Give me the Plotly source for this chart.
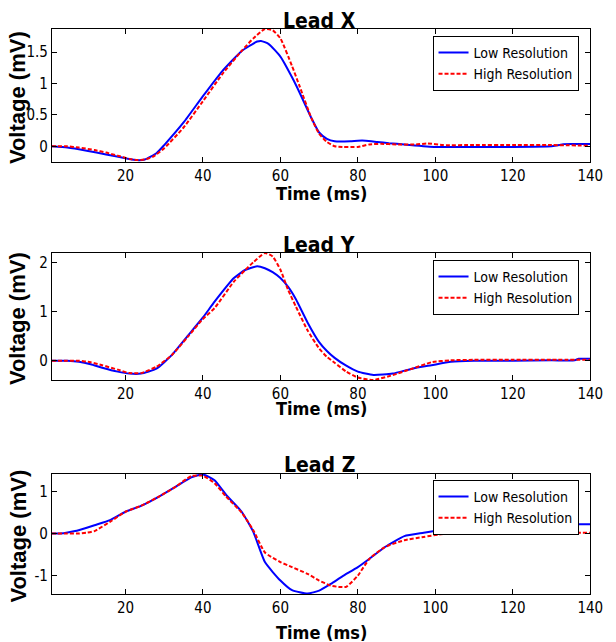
import plotly.graph_objects as go

# Lead X
t_x_low = [1, 5, 10, 15, 20, 23, 25, 28, 30, 35, 40, 45, 50, 52, 54, 55, 57, 60, 63, 65, 68, 70, 72, 74, 78, 80, 82, 85, 88, 92, 100, 110, 120, 130, 132, 133, 140]
x_low = [0, -0.02, -0.07, -0.13, -0.19, -0.22, -0.21, -0.11, 0.02, 0.38, 0.8, 1.2, 1.52, 1.6, 1.67, 1.68, 1.63, 1.43, 1.1, 0.85, 0.45, 0.22, 0.12, 0.08, 0.08, 0.09, 0.09, 0.07, 0.05, 0.03, -0.01, -0.01, -0.01, 0.0, 0.02, 0.035, 0.035]
t_x_high = [1, 5, 8, 12, 15, 18, 21, 23, 25, 27, 30, 35, 40, 45, 50, 53, 56, 58, 60, 63, 65, 68, 70, 72, 74, 76, 80, 83, 86, 90, 95, 98, 102, 110, 120, 130, 140]
x_high = [0, 0, -0.02, -0.06, -0.1, -0.15, -0.2, -0.22, -0.21, -0.17, -0.03, 0.3, 0.72, 1.15, 1.52, 1.72, 1.87, 1.85, 1.72, 1.28, 0.95, 0.45, 0.2, 0.07, 0.0, -0.01, -0.01, 0.03, 0.04, 0.03, 0.03, 0.045, 0.02, 0.02, 0.02, 0.02, 0.01]

# Lead Y
t_y_low = [1, 5, 8, 11, 14, 18, 21, 24, 28, 32, 36, 40, 43, 48, 51, 54, 56, 58, 60, 62, 64, 67, 70, 72, 74, 77, 80, 84, 89, 94, 99, 104, 110, 120, 130, 136, 137, 140]
y_low = [0, 0, -0.02, -0.07, -0.14, -0.22, -0.26, -0.26, -0.16, 0.12, 0.5, 0.88, 1.2, 1.68, 1.85, 1.92, 1.88, 1.8, 1.68, 1.5, 1.25, 0.78, 0.38, 0.2, 0.06, -0.1, -0.22, -0.29, -0.26, -0.16, -0.09, -0.02, 0.0, 0.0, 0.01, 0.01, 0.04, 0.04]
t_y_high = [1, 5, 8, 11, 14, 18, 21, 24, 28, 32, 36, 40, 43, 48, 51, 53, 56, 58, 60, 62, 64, 67, 70, 72, 74, 77, 80, 84, 89, 94, 99, 104, 110, 120, 130, 140]
y_high = [0, 0, 0, -0.03, -0.09, -0.18, -0.25, -0.25, -0.12, 0.12, 0.48, 0.85, 1.07, 1.61, 1.85, 2.0, 2.19, 2.12, 1.85, 1.44, 1.1, 0.62, 0.25, 0.08, -0.04, -0.22, -0.34, -0.39, -0.29, -0.16, -0.03, 0.01, 0.02, 0.02, 0.02, 0.02]

# Lead Z
t_z_low = [1, 4, 7, 10, 12, 16, 20, 24, 29, 33, 37, 40, 43, 46, 50, 53, 56, 60, 63, 67, 70, 73, 76, 80, 83, 87, 92, 97, 101, 104, 110, 120, 130, 135, 140]
z_low = [0, 0.01, 0.06, 0.14, 0.2, 0.32, 0.52, 0.66, 0.9, 1.12, 1.34, 1.41, 1.27, 0.92, 0.52, 0.04, -0.68, -1.12, -1.35, -1.43, -1.36, -1.2, -1.02, -0.8, -0.6, -0.32, -0.06, 0.02, 0.08, 0.12, 0.14, 0.18, 0.2, 0.22, 0.22]
t_z_high = [1, 5, 8, 10, 12, 16, 20, 24, 29, 33, 37, 40, 43, 46, 50, 53, 56, 60, 63, 67, 70, 73, 75, 77, 80, 83, 87, 92, 97, 101, 104, 110, 120, 129, 131, 140]
z_high = [0, 0, 0, 0.02, 0.06, 0.28, 0.52, 0.66, 0.9, 1.12, 1.37, 1.38, 1.2, 0.88, 0.5, 0.08, -0.45, -0.68, -0.8, -0.96, -1.12, -1.24, -1.27, -1.27, -1.0, -0.6, -0.32, -0.16, -0.08, -0.02, 0.0, 0.0, 0.0, 0.0, 0.02, 0.02]

leads = [
    ('Lead X', t_x_low, x_low, t_x_high, x_high, [-0.25, 1.87], [0, 0.5, 1, 1.5], ['0', '0.5', '1', '1.5']),
    ('Lead Y', t_y_low, y_low, t_y_high, y_high, [-0.39, 2.19], [0, 1, 2], ['0', '1', '2']),
    ('Lead Z', t_z_low, z_low, t_z_high, z_high, [-1.44, 1.42], [-1, 0, 1], ['-1', '0', '1']),
]

W, H = 616, 642


def px(x):
    return x / W


def py(y):
    return 1 - y / H


# plot boxes in page pixels (top, bottom)
boxes = [(29, 162), (253, 380), (474, 594)]
x_left, x_right = 53, 603
title_y = [21, 245, 465]
xtitle_y = [193, 408, 632]
legend_top = [36, 260, 480]

NARROW = 'Liberation Sans Narrow, Arial Narrow, DejaVu Sans Condensed, Roboto Condensed, Liberation Sans, sans-serif'
WIDE = 'Liberation Sans, Arial, sans-serif'

fig = go.Figure()
annotations = []

for i, (name, tl, vl, th, vh, yr, yt, ytl) in enumerate(leads):
    n = '' if i == 0 else str(i + 1)
    leg = 'legend' + n
    fig.add_trace(go.Scatter(x=tl, y=vl, mode='lines', name='Low Resolution',
                             line=dict(color='#0000FF', width=2, shape='spline', smoothing=0.5),
                             xaxis='x' + n, yaxis='y' + n, legend=leg))
    fig.add_trace(go.Scatter(x=th, y=vh, mode='lines', name='High Resolution',
                             line=dict(color='#FF0000', width=2, dash='4px,2px', shape='spline', smoothing=0.5),
                             xaxis='x' + n, yaxis='y' + n, legend=leg))

    top, bot = boxes[i]
    common = dict(showgrid=False, zeroline=False, showline=True, linecolor='black', linewidth=1,
                  mirror='ticks', ticks='inside', ticklen=5, tickcolor='black',
                  tickfont=dict(family=NARROW, size=15, color='black'))
    fig.update_layout({
        'xaxis' + n: dict(domain=[px(x_left), px(x_right)], range=[1, 140], tickvals=[20, 40, 60, 80, 100, 120, 140],
                          anchor='y' + n, **common),
        'yaxis' + n: dict(domain=[py(bot), py(top)], range=yr, tickvals=yt, ticktext=ytl,
                          anchor='x' + n, **common),
        leg: dict(x=px(591), xanchor='right', y=py(legend_top[i]), yanchor='top',
                  bgcolor='white', bordercolor='black', borderwidth=1,
                  font=dict(family=NARROW, size=14, color='black'), tracegroupgap=0),
    })

    annotations.append(dict(text='<b>' + name + '</b>', x=px(326), y=py(title_y[i]), xref='paper', yref='paper',
                            showarrow=False, xanchor='center', yanchor='middle',
                            font=dict(family=NARROW, size=21, color='black')))
    annotations.append(dict(text='<b>Time (ms)</b>', x=px(328), y=py(xtitle_y[i]), xref='paper', yref='paper',
                            showarrow=False, xanchor='center', yanchor='middle',
                            font=dict(family=NARROW, size=18, color='black')))
    annotations.append(dict(text='<b>Voltage (mV)</b>', x=px(18), y=py((top + bot + 4) / 2), xref='paper', yref='paper',
                            showarrow=False, xanchor='center', yanchor='middle', textangle=-90,
                            font=dict(family=WIDE, size=22, color='black')))

fig.update_layout(width=W, height=H, margin=dict(l=0, r=0, t=0, b=0),
                  plot_bgcolor='white', paper_bgcolor='white',
                  annotations=annotations, showlegend=True)

# drop the default page margin so the figure fills the window exactly
fig.write_html("out.html", config={'displayModeBar': False},
               post_script="document.body.style.margin='0';document.body.style.overflow='hidden';")
